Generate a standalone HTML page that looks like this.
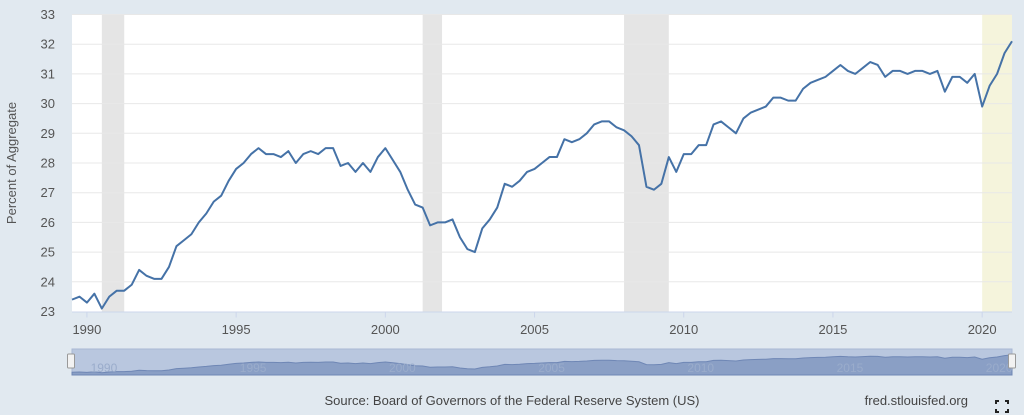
<!DOCTYPE html>
<html><head><meta charset="utf-8"><style>
body{margin:0;background:#e1e9f0;font-family:"Liberation Sans",sans-serif;}
svg{display:block}
</style></head><body>
<svg id="chart" width="1024" height="415">
<rect x="0" y="0" width="1024" height="415" fill="#e1e9f0"/>
<g id="plot"></g>
<text x="16" y="163" transform="rotate(-90 16 163)" text-anchor="middle" font-size="13" fill="#555">Percent of Aggregate</text>
<text x="512" y="405" text-anchor="middle" font-size="13" fill="#444">Source: Board of Governors of the Federal Reserve System (US)</text>
<text x="968" y="405" text-anchor="end" font-size="13" fill="#444">fred.stlouisfed.org</text>
<g stroke="#222" stroke-width="2" fill="none">
<path d="M996 404v-3h3M1005 401h3v3M1008 409v3h-3M999 412h-3v-3"/>
</g>
</svg>
<script>
const startYear = 1989.5;
const values = [23.4,23.5,
23.3,23.6,23.1,23.5, 23.7,23.7,23.9,24.4, 24.2,24.1,24.1,24.5, 25.2,25.4,25.6,26.0,
26.3,26.7,26.9,27.4, 27.8,28.0,28.3,28.5, 28.3,28.3,28.2,28.4, 28.0,28.3,28.4,28.3,
28.5,28.5,27.9,28.0, 27.7,28.0,27.7,28.2, 28.5,28.1,27.7,27.1, 26.6,26.5,25.9,26.0,
26.0,26.1,25.5,25.1, 25.0,25.8,26.1,26.5, 27.3,27.2,27.4,27.7, 27.8,28.0,28.2,28.2,
28.8,28.7,28.8,29.0, 29.3,29.4,29.4,29.2, 29.1,28.9,28.6,27.2, 27.1,27.3,28.2,27.7,
28.3,28.3,28.6,28.6, 29.3,29.4,29.2,29.0, 29.5,29.7,29.8,29.9, 30.2,30.2,30.1,30.1,
30.5,30.7,30.8,30.9, 31.1,31.3,31.1,31.0, 31.2,31.4,31.3,30.9, 31.1,31.1,31.0,31.1,
31.1,31.0,31.1,30.4, 30.9,30.9,30.7,31.0, 29.9,30.6,31.0,31.7, 32.1];
const yTicks = [23,24,25,26,27,28,29,30,31,32,33];
const xTicks = [1990,1995,2000,2005,2010,2015,2020];
const recStart = [1990.5, 2001.25, 2008.0];
const recEnd = [1991.25, 2001.9, 2009.5];
const highlightStart = [2020.0];
const highlightEnd = [2021.0];

const NS="http://www.w3.org/2000/svg";
const L=72,R=1012,T=14.5,B=311.5;
const x0=1989.5,x1=2021.0,y0=23,y1=33;
const X=v=>L+(v-x0)/(x1-x0)*(R-L);
const Y=v=>B-(v-y0)/(y1-y0)*(B-T);
const plot=document.getElementById('plot');
const svg=document.getElementById('chart');
function mk(tag,attrs,parent){const e=document.createElementNS(NS,tag);for(const k in attrs)e.setAttribute(k,attrs[k]);(parent||plot).appendChild(e);return e;}

const bg=mk('rect',{x:L,y:T,width:R-L,height:B-T,fill:'#fff'});


recStart.forEach((s,i)=>{
  const r=mk('rect',{x:X(s),y:T,width:X(recEnd[i])-X(s),height:B-T,fill:'#e5e5e5'});
  
  
});
highlightStart.forEach((s,i)=>{
  const r=mk('rect',{x:X(s),y:T,width:X(highlightEnd[i])-X(s),height:B-T,fill:'#f5f4dc'});
  
  
});
yTicks.forEach(t=>{
  if(t>y0){const g=mk('line',{x1:L,x2:R,y1:Y(t),y2:Y(t),stroke:'#e8e8e8','stroke-width':1});
  
  }
  const tx=mk('text',{x:55,y:Y(t)+4.5,'text-anchor':'end','font-size':13,fill:'#555'},svg);
  tx.textContent=t;
  
  
});
const ax=mk('line',{x1:L,x2:R,y1:B+0.5,y2:B+0.5,stroke:'#ccd6eb','stroke-width':1});


xTicks.forEach(t=>{
  const tk=mk('line',{x1:X(t),x2:X(t),y1:B,y2:B+6,stroke:'#ccd6eb'});
  
  
  const tx=mk('text',{x:X(t),y:334,'text-anchor':'middle','font-size':13,fill:'#555'},svg);
  tx.textContent=t;
  
  
});
const pts=values.map((v,i)=>[X(startYear+i*0.25),Y(v)]);
const line=mk('polyline',{points:pts.map(p=>p.join(',')).join(' '),fill:'none',stroke:'#4572a7','stroke-width':2,'stroke-linejoin':'round'});



// navigator
const NT=349,NB=375;
const NY=v=>NB-2-(v-y0)/(y1-y0+3)*(NB-NT);
const nav=mk('rect',{x:L,y:NT,width:R-L,height:NB-NT,fill:'#b9c7df',stroke:'#a9b8d3'},svg);


const ap=values.map((v,i)=>X(startYear+i*0.25)+','+NY(v)).join(' ');
const area=mk('polygon',{points:L+','+NB+' '+ap+' '+R+','+NB,fill:'#8a9fc5',stroke:'#6f87b5','stroke-width':1},svg);


xTicks.forEach(t=>{
  const tx=mk('text',{x:X(t)+17,y:372,'text-anchor':'middle','font-size':12,fill:'#9aaccb'},svg);
  tx.textContent=t;
  
  
});
[L-1,R].forEach(hx=>{
  const h=mk('rect',{x:hx-3.5,y:354,width:7,height:14,fill:'#f2f2f2',stroke:'#999',rx:1},svg);
  
  
});
</script>
</body></html>
